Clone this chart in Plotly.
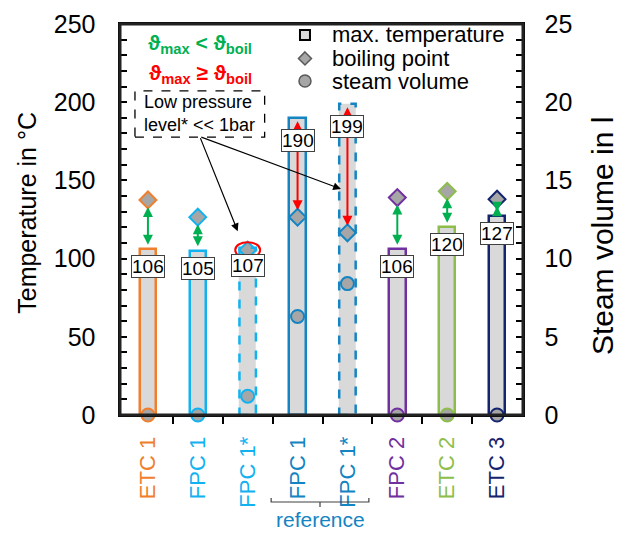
import plotly.graph_objects as go

# ---------------- data ----------------
categories = ["ETC 1", "FPC 1", "FPC 1*", "FPC 1", "FPC 1*", "FPC 2", "ETC 2", "ETC 3"]
max_temp = [106, 105, 107, 190, 199, 106, 120, 127]              # °C
boil_point = [137.5, 126.5, 105.5, 126.5, 116.5, 139, 143, 138]  # °C
steam_volume = [0, 0, 1.2, 6.3, 8.4, 0, 0, 0]                    # l
cat_colors = ["#F07F2D", "#12B2F0", "#12B2F0", "#1484C2", "#1484C2", "#7030A0", "#8DBE4C", "#14246E"]
dashed = [False, False, True, False, True, False, False, False]
temp_ticks = [0, 50, 100, 150, 200, 250]
vol_ticks = [0, 5, 10, 15, 20, 25]
legend_labels = ["max. temperature", "boiling point", "steam volume"]

FONT = "Liberation Sans, Arial, sans-serif"
GREEN = "#00B050"
RED = "#FF0000"
BAR_FILL = "#D9D9D9"
MARK_FILL = "#A6A6A6"
BAR_W = 0.33

idx = list(range(len(categories)))

fig = go.Figure()

# bars: max. temperature
fig.add_trace(go.Bar(
    x=idx, y=max_temp, width=BAR_W,
    marker=dict(color=BAR_FILL,
                line=dict(color=[("rgba(0,0,0,0)" if d else c) for c, d in zip(cat_colors, dashed)],
                          width=2.5)),
    showlegend=False, hoverinfo="skip"))

# boiling points
fig.add_trace(go.Scatter(
    x=idx, y=boil_point, mode="markers",
    marker=dict(symbol="diamond", size=13, color=MARK_FILL,
                line=dict(color=cat_colors, width=2)),
    showlegend=False, hoverinfo="skip"))

# steam volume (right axis)
fig.add_trace(go.Scatter(
    x=idx, y=steam_volume, mode="markers", yaxis="y2",
    marker=dict(symbol="circle", size=13, color=MARK_FILL,
                line=dict(color=cat_colors, width=2)),
    showlegend=False, hoverinfo="skip", cliponaxis=False))

shapes = []
annotations = []

# dashed outlines for the low-pressure bars
for i, (v, c, d) in enumerate(zip(max_temp, cat_colors, dashed)):
    if d:
        shapes.append(dict(type="rect", xref="x", yref="y",
                           x0=i - BAR_W / 2, x1=i + BAR_W / 2, y0=0, y1=v,
                           line=dict(color=c, width=2.5, dash="dash"), layer="above"))

# double arrows max temperature <-> boiling point (circle when nearly equal)
for i, (t, b) in enumerate(zip(max_temp, boil_point)):
    if abs(t - b) < 5:
        shapes.append(dict(type="circle", xref="x", yref="y",
                           x0=i - 0.25, x1=i + 0.25, y0=b - 5, y1=b + 5,
                           line=dict(color=RED, width=2)))
        continue
    col = GREEN if t < b else RED
    annotations.append(dict(x=i, y=b, ax=i, ay=t, xref="x", yref="y", axref="x", ayref="y",
                            text="", showarrow=True, arrowhead=2, arrowside="end+start",
                            arrowsize=1, arrowwidth=2, arrowcolor=col,
                            standoff=7, startstandoff=2 if t > b else 3))

# value labels
for i, t in enumerate(max_temp):
    annotations.append(dict(x=i, y=t, xref="x", yref="y", text=str(t), showarrow=False,
                            xanchor="center", yanchor="top", yshift=-6 if t < 150 else -11,
                            font=dict(family=FONT, size=19, color="black"),
                            bgcolor="white", bordercolor="#404040", borderwidth=1, borderpad=0))

# low pressure note
shapes.append(dict(type="rect", xref="x", yref="y", x0=-0.26, x1=2.34, y0=177.7, y1=207.2,
                   line=dict(color="black", width=1.3, dash="dash"), fillcolor="white"))
annotations.append(dict(x=1.04, y=192.5, xref="x", yref="y", xanchor="center", yanchor="middle",
                        text="Low pressure<br>level* &lt;&lt; 1bar", showarrow=False,
                        align="left", font=dict(family=FONT, size=18, color="black")))
annotations.append(dict(x=1.80, y=117.5, ax=1.04, ay=178, xref="x", yref="y", axref="x", ayref="y",
                        text="", showarrow=True, arrowhead=2, arrowsize=1.3, arrowwidth=1.2,
                        arrowcolor="black"))
annotations.append(dict(x=3.87, y=144.5, ax=1.04, ay=178, xref="x", yref="y", axref="x", ayref="y",
                        text="", showarrow=True, arrowhead=2, arrowsize=1.3, arrowwidth=1.2,
                        arrowcolor="black"))

# condition texts
annotations.append(dict(xref="paper", yref="paper", x=0.199, y=0.949, showarrow=False,
                        xanchor="center", yanchor="middle",
                        text="<b>ϑ<sub>max</sub> &lt; ϑ<sub>boil</sub></b>",
                        font=dict(family=FONT, size=21, color=GREEN)))
annotations.append(dict(xref="paper", yref="paper", x=0.199, y=0.873, showarrow=False,
                        xanchor="center", yanchor="middle",
                        text="<b>ϑ<sub>max</sub> ≥ ϑ<sub>boil</sub></b>",
                        font=dict(family=FONT, size=21, color=RED)))

# custom legend
leg_x = 0.459
leg_rows = [0.972, 0.912, 0.854]
shapes.append(dict(type="rect", xref="paper", yref="paper", xsizemode="pixel", ysizemode="pixel",
                   xanchor=leg_x, yanchor=leg_rows[0], x0=-5, x1=5, y0=-5, y1=5,
                   fillcolor=BAR_FILL, line=dict(color="black", width=2)))
shapes.append(dict(type="path", xref="paper", yref="paper", xsizemode="pixel", ysizemode="pixel",
                   xanchor=leg_x, yanchor=leg_rows[1], path="M 0 6.5 L 6.5 0 L 0 -6.5 L -6.5 0 Z",
                   fillcolor=MARK_FILL, line=dict(color="#595959", width=1.5)))
shapes.append(dict(type="circle", xref="paper", yref="paper", xsizemode="pixel", ysizemode="pixel",
                   xanchor=leg_x, yanchor=leg_rows[2], x0=-6, x1=6, y0=-6, y1=6,
                   fillcolor=MARK_FILL, line=dict(color="#595959", width=1.5)))
for lab, yy in zip(legend_labels, leg_rows):
    annotations.append(dict(xref="paper", yref="paper", x=0.521, y=yy, xanchor="left",
                            yanchor="middle", text=lab, showarrow=False,
                            font=dict(family=FONT, size=22, color="black")))

# "reference" bracket below the two reference categories
shapes.append(dict(type="path", xref="x", yref="paper",
                   path="M 2.47 -0.2123 L 2.47 -0.2225 L 4.43 -0.2225 L 4.43 -0.2123 "
                        "M 3.45 -0.2225 L 3.45 -0.2353",
                   line=dict(color="#404040", width=1.2)))
annotations.append(dict(x=3.45, y=-0.268, xref="x", yref="paper", text="reference",
                        showarrow=False, xanchor="center", yanchor="middle",
                        font=dict(family=FONT, size=21, color="#1484C2")))

# plot frame
shapes.append(dict(type="rect", xref="paper", yref="paper", x0=0, x1=1, y0=0, y1=1,
                   line=dict(color="#222222", width=3), layer="above"))

# axis titles
annotations.append(dict(xref="paper", yref="paper", x=-0.231, y=0.517, textangle=-90,
                        text="Temperature in °C", showarrow=False,
                        xanchor="center", yanchor="middle",
                        font=dict(family=FONT, size=25, color="black")))
annotations.append(dict(xref="paper", yref="paper", x=1.199, y=0.458, textangle=-90,
                        text="Steam volume in l", showarrow=False,
                        xanchor="center", yanchor="middle",
                        font=dict(family=FONT, size=30, color="black")))

SP = "\u2002"
ticktext = [f'<span style="color:{c}">{n}</span>{SP}' for n, c in zip(categories, cat_colors)]

axis_common = dict(showgrid=False, zeroline=False, automargin=False,
                   showline=True, linecolor="black", linewidth=2)
tick_common = dict(ticklen=7, tickcolor="black", tickwidth=2)

# the page body has an 8px margin: shrink the figure so the plot lands in place
fig.update_layout(
    width=622, height=525,
    margin=dict(l=112, r=107, t=16, b=118, autoexpand=False),
    paper_bgcolor="white", plot_bgcolor="white",
    font=dict(family=FONT, color="black"),
    showlegend=False,
    bargap=0,
    shapes=shapes,
    annotations=annotations,
    xaxis=dict(range=[-0.56, 7.52], tickmode="array", tickvals=idx, ticktext=ticktext,
               tickangle=-90, ticks="", tickfont=dict(family=FONT, size=22), mirror=True,
               minor=dict(tickmode="array", tickvals=[i + 0.5 for i in idx[:-1]],
                          ticks="outside", **tick_common),
               **axis_common),
    yaxis=dict(range=[0, 250], tickmode="array", tickvals=temp_ticks,
               ticktext=[f"{v}{SP}\u2009" for v in temp_ticks],
               ticks="inside", **tick_common,
               minor=dict(dtick=10, ticks="inside", **tick_common),
               tickfont=dict(family=FONT, size=25),
               **axis_common),
    yaxis2=dict(range=[0, 25], tickmode="array", tickvals=vol_ticks,
                ticktext=[f"{SP}\u200a{v}" for v in vol_ticks], overlaying="y", side="right",
                ticks="inside", **tick_common,
                minor=dict(dtick=1, ticks="inside", **tick_common),
                tickfont=dict(family=FONT, size=25),
                **axis_common),
)

fig.write_html("out.html")
